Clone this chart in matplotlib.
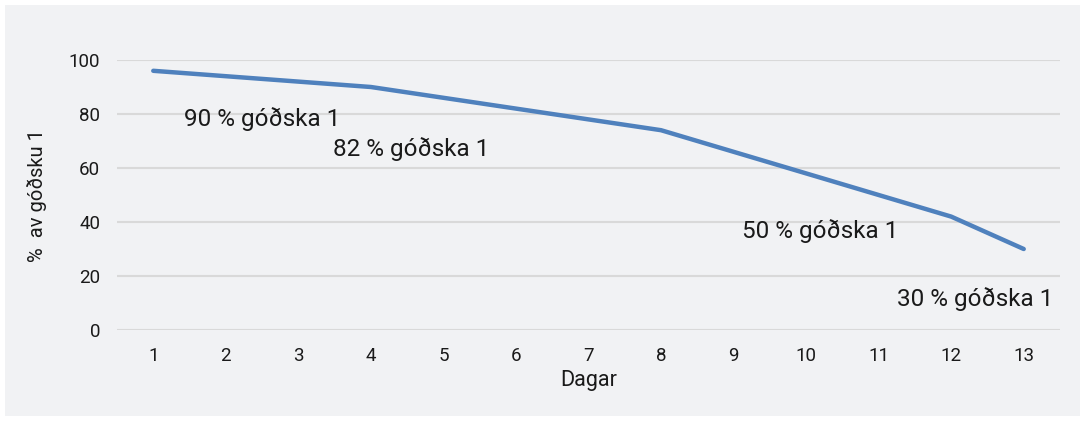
import matplotlib
matplotlib.use("Agg")
import matplotlib.pyplot as plt
from matplotlib.patches import Rectangle

# Gögn lesin af myndinni
dagar = list(range(1, 14))
godska = [96, 94, 92, 90, 86, 82, 78, 74, 66, 58, 50, 42, 30]
y_ticks = [0, 20, 40, 60, 80, 100]

merki = ["90 % góðska 1", "82 % góðska 1", "50 % góðska 1", "30 % góðska 1"]
merki_x = [1.43, 3.48, 9.11, 11.25]
merki_y = [78, 67, 36.5, 11.5]

plt.rcParams['font.family'] = ['Roboto', 'DejaVu Sans']
bg = '#f1f2f4'
txt = '#1a1a1a'

fig = plt.figure(figsize=(10.85, 4.21), dpi=100)
fig.patch.set_facecolor('white')
fig.patches.append(Rectangle((5 / 1085, 5 / 421), 1075 / 1085, 411 / 421,
                             transform=fig.transFigure, facecolor=bg,
                             edgecolor='none', zorder=-10))

ax = fig.add_axes([117 / 1085, 91 / 421, 943 / 1085, 270 / 421])
ax.set_facecolor(bg)
ax.plot(dagar, godska, color='#4f81bd', linewidth=3.2, solid_capstyle='round',
        solid_joinstyle='round', zorder=3)

for t, x, y in zip(merki, merki_x, merki_y):
    ax.text(x, y, t, fontsize=17.5, color=txt, va='center', ha='left')

ax.set_xlim(0.5, 13.5)
ax.set_ylim(0, 100)
ax.set_xticks(dagar)
ax.set_yticks(y_ticks)
ax.yaxis.grid(True, color='#d9d9d9', linewidth=1.5)
ax.set_axisbelow(True)
ax.tick_params(length=0, labelsize=13.5, colors=txt)
ax.tick_params(axis='x', pad=12)
ax.tick_params(axis='y', pad=12)
for s in ax.spines.values():
    s.set_visible(False)

ax.set_xlabel("Dagar", fontsize=15.5, color=txt, labelpad=4)
ax.set_ylabel("%  av góðsku 1", fontsize=14.5, color=txt, labelpad=16)

fig.savefig("out.png", dpi=100, facecolor=fig.get_facecolor())
